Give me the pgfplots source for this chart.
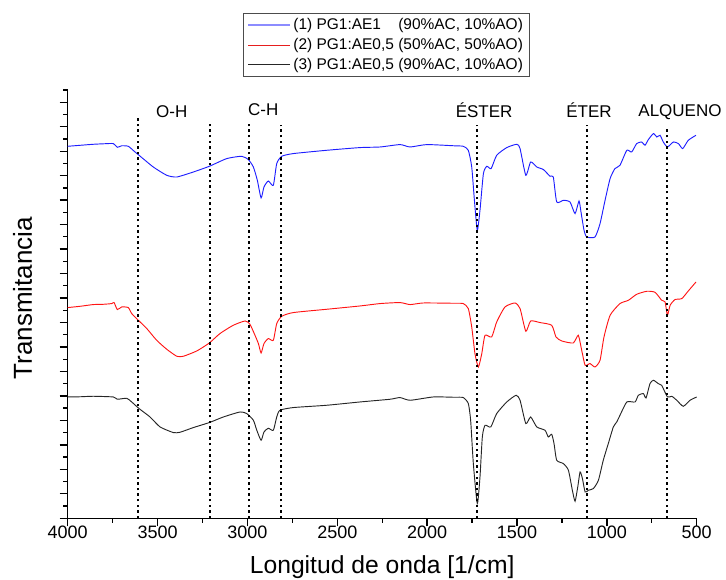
\documentclass[border=0pt]{standalone}
\usepackage{fontspec}
\setmainfont{Liberation Sans}
\usepackage{pgfplots}
\pgfplotsset{compat=1.18}
\usepackage{pgfplotstable}

\pgfplotstableread{
x y
4000 372
3930 373
3858 374
3800 374.5
3746 374.7
3724 371
3700 372.5
3663 372
3630 367
3603 363
3524 351.3
3449 343
3393 341.3
3301 346.3
3212 352
3115 359.7
3032 362
2995 358.7
2967 351.3
2945 338
2924 320.3
2908 331.3
2884 337.3
2856 333
2837 354.7
2809 362
2745 364.7
2559 368
2374 370.7
2262 371.3
2151 373.7
2095 371.3
2002 373.7
1850 372.5
1799 372
1771 368
1752 351.3
1737 318
1721 288
1706 308
1687 344.7
1668 352
1644 349.7
1613 363
1557 370.7
1501 374
1483 369.7
1451 343
1424 356.3
1390 351.3
1353 348.7
1316 342
1298 341.3
1279 316.3
1242 318
1205 316.3
1177 304.7
1155 317.3
1144 306.3
1127 288
1112 281.3
1066 281.3
1038 294.7
1010 318
982 339.7
955 349.7
927 353
889 368
862 366.3
834 374.7
806 376.3
788 373
769 378.7
741 384.7
722 381.3
704 383
686 376.3
663 371.3
630 376.3
602 374.7
578 369.7
547 378
504 383
}\blue

\pgfplotstableread{
x y
4000 210.7
3930 212
3858 213.7
3800 214
3755 214.7
3742 215.7
3724 208.7
3700 211.3
3663 210.7
3644 204.7
3603 197.3
3560 189.7
3505 178
3449 169
3393 162
3357 162
3282 167.3
3212 175.3
3153 184.7
3079 193
3013 197.3
2986 194
2958 183
2939 174.7
2924 165.3
2908 174.7
2884 179.7
2856 178
2837 194.7
2809 202
2745 205.7
2559 209
2374 212.3
2262 214.7
2151 215.7
2095 213.7
2021 215.3
1850 215
1799 214.7
1771 209.7
1752 191.3
1734 164.7
1715 151.3
1696 164.7
1678 183
1641 181.3
1613 196.3
1567 211.3
1511 215.3
1483 209.7
1451 187
1424 197.3
1372 195.7
1307 193
1283 181.3
1251 177.3
1187 175.3
1159 183
1140 168
1121 153
1094 154.7
1066 151.3
1038 158
1016 181.3
982 203
927 214.7
880 218
834 224
778 227
732 226
695 218
676 216.3
663 203
648 213
621 218.7
583 219.7
547 227.3
504 236.3
}\red

\pgfplotstableread{
x y
4000 121.3
3930 121.5
3858 122
3746 121.3
3724 119
3672 120
3644 116.3
3603 109.7
3542 101.3
3486 91.3
3412 85.7
3375 86
3301 90.7
3212 95.7
3134 101.3
3041 106.3
3004 104.7
2967 98
2948 88
2924 78
2908 86.3
2884 90
2856 88
2837 101.3
2819 108
2745 110.7
2559 113
2374 116.3
2207 119
2151 120.7
2095 118
1966 121.3
1850 121
1799 120.7
1771 114.7
1758 98
1743 54.7
1721 14.7
1706 41.3
1693 81.3
1678 93
1646 91.3
1613 104.7
1557 116.3
1505 123
1483 118
1451 94.7
1424 101.3
1390 91.3
1344 88
1326 81.3
1307 84
1294 74.7
1279 58
1242 54.7
1214 48
1192 28
1177 17
1162 31.3
1149 46.3
1136 39.7
1121 26.3
1103 28
1075 29.7
1047 38
1020 58
992 74.7
964 91.3
945 96.3
927 103
889 116.3
843 116.3
825 123
797 124.7
782 120.3
760 134.7
741 138
714 134.7
695 133
663 121.3
639 122
611 118
575 112
537 118
500 121.3
}\black

\begin{document}
\begin{tikzpicture}
\useasboundingbox (-50.8pt,-46.3pt) rectangle (493.7pt,388.7pt);
\begin{axis}[
  at={(0,0)}, anchor=south west,
  scale only axis, width=471.75pt, height=321.2pt,
  x dir=reverse,
  xmin=500, xmax=4000, ymin=0, ymax=428.3,
  axis lines*=left,
  axis line style={line width=1.1pt},
  tick align=outside,
  xtick={500,1000,...,4000},
  minor x tick num=1,
  ytick distance=24.474,
  minor y tick num=1,
  yticklabels={},
  major tick length=6pt, minor tick length=3.5pt,
  every tick/.style={black, line width=1pt},
  /pgf/number format/assume math mode=true,
  /pgf/number format/set thousands separator={},
  xticklabel style={font=\fontsize{13.5}{15}\selectfont, yshift=3.5pt},
  xlabel={Longitud de onda [1/cm]},
  ylabel={Transmitancia},
  xlabel style={at={(axis description cs:0.5,0)}, anchor=center, yshift=-36.5pt, font=\fontsize{18.5}{22}\selectfont},
  ylabel style={at={(axis description cs:0,0.514)}, anchor=center, yshift=33.9pt, font=\fontsize{19.5}{22}\selectfont},
  clip=false,
  legend style={at={(0.2787,1.1805)}, anchor=north west, draw=black!70, line width=0.6pt,
    fill=white, font=\fontsize{11.6}{13}\selectfont, row sep=1pt,
    inner xsep=3pt, inner ysep=2pt, cells={anchor=west}},
  legend cell align=left,
  legend image code/.code={\draw[#1] (0pt,0pt) -- (31pt,0pt);},
]
\addlegendimage{color={rgb,255:red,140;green,140;blue,255}, line width=1.5pt}
\addlegendentry{(1) PG1:\rlap{AE1}\phantom{AE0,5} (90\%AC, 10\%AO)}
\addlegendimage{color={rgb,255:red,230;green,30;blue,30}, line width=0.6pt}
\addlegendentry{(2) PG1:AE0,5 (50\%AC, 50\%AO)}
\addlegendimage{color=black!85, line width=0.6pt}
\addlegendentry{(3) PG1:AE0,5 (90\%AC, 10\%AO)}

\addplot[color={rgb,255:red,30;green,30;blue,255}, line width=0.7pt, smooth, tension=0.35, forget plot] table {\blue};
\addplot[color={rgb,255:red,255;green,20;blue,20}, line width=0.7pt, smooth, tension=0.35, forget plot] table {\red};
\addplot[color=black!85, line width=0.7pt, smooth, tension=0.35, forget plot] table {\black};

\pgfplotsset{dots/.style={black, line width=1.5pt, dash pattern=on 1.8pt off 2.4pt, forget plot}}
\addplot[dots] coordinates {(3610,0) (3610,400.3)};
\addplot[dots] coordinates {(3210,0) (3210,397.6)};
\addplot[dots] coordinates {(2990,0) (2990,396.6)};
\addplot[dots] coordinates {(2815,0) (2815,393.3)};
\addplot[dots] coordinates {(1722,0) (1722,393.3)};
\addplot[dots] coordinates {(1110,0) (1110,393.3)};
\addplot[dots] coordinates {(665,0) (665,391.6)};

\node[font=\fontsize{12.75}{15}\selectfont] at (axis cs:3421,406.6) {O-H};
\node[font=\fontsize{12.75}{15}\selectfont] at (axis cs:2912,408.3) {C-H};
\node[font=\fontsize{12.75}{15}\selectfont] at (axis cs:1683,408.3) {ÉSTER};
\node[font=\fontsize{12.75}{15}\selectfont] at (axis cs:1099,408.3) {ÉTER};
\node[font=\fontsize{12.75}{15}\selectfont] at (axis cs:593,406.6) {ALQUENO};
\end{axis}
\end{tikzpicture}
\end{document}
